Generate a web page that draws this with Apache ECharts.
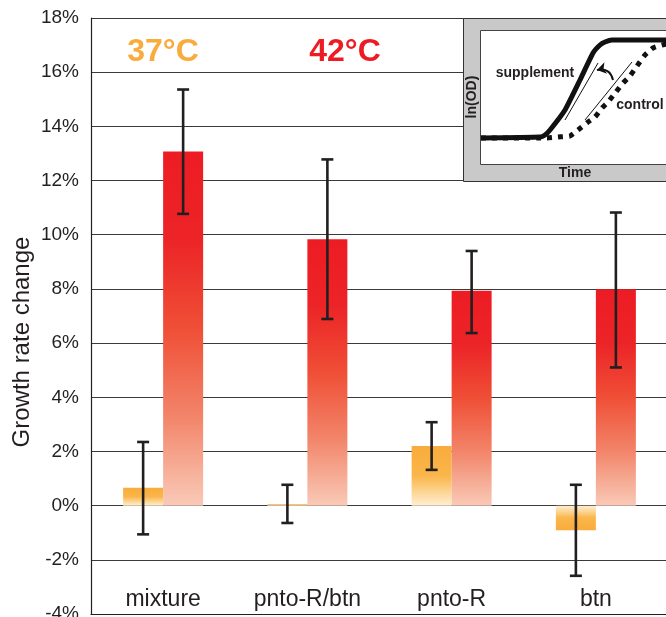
<!DOCTYPE html>
<html><head><meta charset="utf-8">
<script src="https://cdn.jsdelivr.net/npm/echarts@6/dist/echarts.min.js"></script>
<style>html,body{margin:0;padding:0;background:#fff}#c{width:666px;height:617px}</style>
</head><body><div id="c"></div>
<script>
// ---- data ----
const categories = ['mixture', 'pnto-R/btn', 'pnto-R', 'btn'];
const growth37 = [0.66, 0.05, 2.2, -0.91];
const err37Low = [-1.06, -0.64, 1.32, -2.59];
const err37High = [2.35, 0.77, 3.08, 0.77];
const growth42 = [13.07, 9.83, 7.93, 7.99];
const err42Low = [10.77, 6.89, 6.37, 5.1];
const err42High = [15.36, 12.78, 9.4, 10.82];
const yTicks = { min: -4, max: 18, interval: 2 };

// inset (schematic growth curves), arbitrary units
const supplementCurve = [[0,26],[59,27],[64,29],[69,34],[84,54],[99,84],[112,111],[119,119],[124,122],[131,124],[200,124]];
const controlCurve = [[0,26],[66,26],[77,27],[89,28],[97,34],[107,42],[114,47],[121,56],[127,62],[135,72],[142,81],[149,88],[156,98],[164,109],[172,116],[181,119],[190,121],[200,123]];
const supplementGuide = [[84,44],[117,101]];
const controlGuide = [[104,44],[151,102]];
const arrowPath = [[132,84],[116,94]];

const FONT = '"Liberation Sans", Arial, Helvetica, sans-serif';
const INK = '#231f20';

const orangePos = new echarts.graphic.LinearGradient(0,0,0,1,[
  {offset:0,color:'#F9AC3C'},{offset:0.5,color:'#FAB64A'},{offset:1,color:'#FFEFD2'}]);
const orangeNeg = new echarts.graphic.LinearGradient(0,0,0,1,[
  {offset:0,color:'#FFEFD2'},{offset:0.5,color:'#FAB64A'},{offset:1,color:'#F9AC3C'}]);
const redGrad = new echarts.graphic.LinearGradient(0,0,0,1,[
  {offset:0,color:'#ED1C24'},{offset:0.25,color:'#EC2427'},{offset:0.5,color:'#EF4F36'},
  {offset:0.75,color:'#F2856A'},{offset:1,color:'#F9CAB7'}]);

function errRender(offset){
  return function(params, api){
    const c = api.value(0);
    const lo = api.coord([c, api.value(1)]);
    const hi = api.coord([c, api.value(2)]);
    const x = lo[0] + offset, cap = 6;
    const st = {stroke: INK, lineWidth: 2.6};
    return {type:'group', children:[
      {type:'line', shape:{x1:x,y1:hi[1],x2:x,y2:lo[1]}, style:st},
      {type:'line', shape:{x1:x-cap,y1:hi[1],x2:x+cap,y2:hi[1]}, style:st},
      {type:'line', shape:{x1:x-cap,y1:lo[1],x2:x+cap,y2:lo[1]}, style:st}
    ]};
  };
}

const chart = echarts.init(document.getElementById('c'), null, {renderer:'canvas'});
chart.setOption({
  animation: false,
  backgroundColor: '#fff',
  grid: [
    {left: 91, top: 18, width: 577, height: 596, outerBoundsMode:'none', containLabel:false},
    {left: 481, top: 30, width: 200, height: 134, outerBoundsMode:'none', containLabel:false}
  ],
  xAxis: [
    {type:'category', gridIndex:0, data: categories,
     axisLine:{onZero:false, lineStyle:{color:INK, width:1.2}},
     axisTick:{show:false},
     axisLabel:{inside:true, margin:3, fontFamily:FONT, fontSize:23, color:INK}},
    {type:'value', gridIndex:1, min:0, max:200, show:false}
  ],
  yAxis: [
    {type:'value', gridIndex:0, min:yTicks.min, max:yTicks.max, interval:yTicks.interval,
     axisLine:{show:true, lineStyle:{color:INK, width:1.2}},
     axisTick:{show:false},
     splitLine:{lineStyle:{color:'#3a3a3a', width:1.2}},
     axisLabel:{formatter:'{value}%', margin:12, fontFamily:FONT, fontSize:19, color:INK}},
    {type:'value', gridIndex:1, min:0, max:134, show:false}
  ],
  graphic: [
    {type:'rect', z:1, shape:{x:463.5, y:18.5, width:230, height:163}, style:{fill:'#C9C9C9', stroke:'#333', lineWidth:1}},
    {type:'rect', z:1, shape:{x:480.5, y:30.5, width:210, height:134}, style:{fill:'#fff', stroke:'#444', lineWidth:1}},
    {type:'text', z:5, x:575, y:173, style:{text:'Time', font:'bold 14px '+FONT, fill:INK, align:'center', verticalAlign:'middle'}},
    {type:'text', z:5, x:472, y:97, rotation:Math.PI/2, style:{text:'ln(OD)', font:'bold 14px '+FONT, fill:INK, align:'center', verticalAlign:'middle'}},
    {type:'text', z:5, x:535, y:73, style:{text:'supplement', font:'bold 14px '+FONT, fill:INK, align:'center', verticalAlign:'middle'}},
    {type:'text', z:5, x:640, y:105, style:{text:'control', font:'bold 14px '+FONT, fill:INK, align:'center', verticalAlign:'middle'}},
    {type:'text', z:5, x:163, y:52, style:{text:'37°C', font:'bold 32px '+FONT, fill:'#F9AC3C', align:'center', verticalAlign:'middle'}},
    {type:'text', z:5, x:345, y:52, style:{text:'42°C', font:'bold 32px '+FONT, fill:'#ED1C24', align:'center', verticalAlign:'middle'}},
    {type:'text', z:5, x:22, y:342, rotation:Math.PI/2, style:{text:'Growth rate change', font:'24px '+FONT, fill:INK, align:'center', verticalAlign:'middle'}}
  ],
  series: [
    {type:'bar', name:'37°C', xAxisIndex:0, yAxisIndex:0, data:growth37, barWidth:40, barGap:'0%',
     itemStyle:{color:function(p){ return p.value >= 0 ? orangePos : orangeNeg; }}},
    {type:'bar', name:'42°C', xAxisIndex:0, yAxisIndex:0, data:growth42, barWidth:40, barGap:'0%',
     itemStyle:{color:redGrad}},
    {type:'custom', xAxisIndex:0, yAxisIndex:0, z:5, renderItem:errRender(-20),
     data: categories.map((c,i)=>[i, err37Low[i], err37High[i]])},
    {type:'custom', xAxisIndex:0, yAxisIndex:0, z:5, renderItem:errRender(20),
     data: categories.map((c,i)=>[i, err42Low[i], err42High[i]])},
    {type:'line', xAxisIndex:1, yAxisIndex:1, z:6, data:controlCurve, showSymbol:false, smooth:0.15,
     lineStyle:{color:'#111', width:5, type:[5,6], cap:'butt'}},
    {type:'line', xAxisIndex:1, yAxisIndex:1, z:7, data:supplementCurve, showSymbol:false, smooth:0.15,
     lineStyle:{color:'#111', width:5}},
    {type:'line', xAxisIndex:1, yAxisIndex:1, z:7, data:supplementGuide, showSymbol:false,
     lineStyle:{color:'#111', width:1}},
    {type:'line', xAxisIndex:1, yAxisIndex:1, z:7, data:controlGuide, showSymbol:false,
     lineStyle:{color:'#111', width:1}},
    {type:'lines', coordinateSystem:'cartesian2d', xAxisIndex:1, yAxisIndex:1, z:7,
     symbol:['none','arrow'], symbolSize:9,
     lineStyle:{color:'#111', width:2, curveness:-0.5, opacity:1},
     data:[{coords: arrowPath}]}
  ]
});
</script></body></html>
